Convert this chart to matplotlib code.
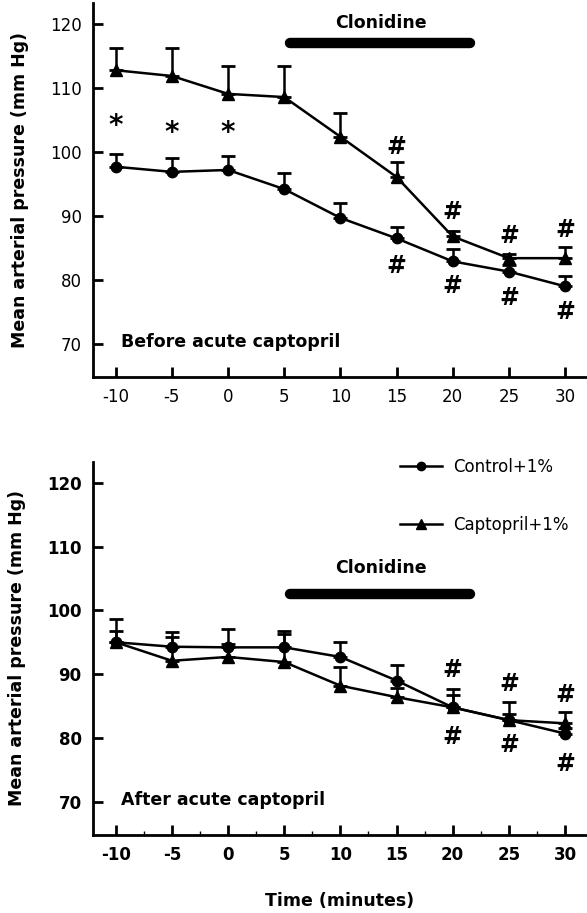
import matplotlib
matplotlib.use("Agg")
import matplotlib.pyplot as plt
from matplotlib.lines import Line2D

plt.rcParams['font.family'] = ['DejaVu Sans']

minutes = [-10, -5, 0, 5, 10, 15, 20, 25, 30]
xticks = [-10, -5, 0, 5, 10, 15, 20, 25, 30]
yticks = [70, 80, 90, 100, 110, 120]

# before acute captopril
ctrl_before = [97.7, 96.9, 97.2, 94.2, 89.7, 86.5, 82.9, 81.3, 79.0]
ctrl_before_sem = [2.0, 2.1, 2.2, 2.5, 2.4, 1.8, 1.9, 1.0, 1.6]
capt_before = [112.8, 111.9, 109.1, 108.6, 102.4, 96.1, 86.8, 83.4, 83.4]
capt_before_sem = [3.4, 4.3, 4.3, 4.8, 3.7, 2.3, 0.8, 0.6, 1.8]

# after acute captopril
ctrl_after = [95.0, 94.3, 94.2, 94.2, 92.7, 89.0, 84.8, 82.8, 80.7]
ctrl_after_sem = [3.7, 2.3, 2.9, 2.6, 2.3, 2.4, 1.9, 1.0, 0.8]
capt_after = [95.0, 92.1, 92.7, 91.9, 88.2, 86.4, 84.8, 82.8, 82.3]
capt_after_sem = [1.8, 3.7, 2.0, 4.4, 2.9, 1.5, 2.9, 2.8, 1.8]

# significance symbols (x, y)
stars_before = [(-10, 104.0), (-5, 103.0), (0, 103.0)]
hash_before = [(15, 100.8), (20, 90.7), (25, 86.8), (30, 87.8),
               (15, 82.1), (20, 79.0), (25, 77.2), (30, 75.0)]
hash_after = [(20, 90.6), (25, 88.5), (30, 86.7),
              (20, 80.2), (25, 78.9), (30, 76.0)]

clonidine_start, clonidine_end = 5.5, 21.5


def draw_panel(ax, ctrl, ctrl_sem, capt, capt_sem, bar_y, text_y, label,
               bold_ticks):
    kw = dict(color='black', lw=1.8, capsize=5, capthick=2, elinewidth=1.8)
    ax.errorbar(minutes, capt, yerr=[[0] * len(capt), capt_sem],
                marker='^', ms=8.5, **kw)
    ax.errorbar(minutes, ctrl, yerr=[[0] * len(ctrl), ctrl_sem],
                marker='o', ms=7.5, **kw)

    ax.plot([clonidine_start, clonidine_end], [bar_y, bar_y], color='black',
            lw=7.5, solid_capstyle='round')
    ax.text(13.6, text_y, 'Clonidine', ha='center', va='center',
            fontsize=12.5, fontweight='bold')
    ax.text(-9.5, 70.3, label, ha='left', va='center', fontsize=12.5,
            fontweight='bold')

    ax.set_xlim(-12.05, 31.96)
    ax.set_ylim(64.8, 123.3)
    ax.set_xticks(xticks)
    ax.set_xticklabels([str(t) for t in xticks])
    ax.set_yticks(yticks)
    ax.set_yticklabels([str(t) for t in yticks])
    ax.tick_params(direction='in', length=7, width=2, labelsize=12, pad=8)
    if bold_ticks:
        for t in ax.get_xticklabels() + ax.get_yticklabels():
            t.set_fontweight('bold')
    for side in ('top', 'right'):
        ax.spines[side].set_visible(False)
    for side in ('left', 'bottom'):
        ax.spines[side].set_linewidth(2)
    ax.set_ylabel('Mean arterial pressure (mm Hg)', fontsize=12.5,
                  fontweight='bold', labelpad=15)


fig = plt.figure(figsize=(5.87, 9.13), dpi=100)
ax1 = fig.add_axes([0.158, 0.587, 0.842, 0.4096])
ax2 = fig.add_axes([0.158, 0.0854, 0.842, 0.409])

draw_panel(ax1, ctrl_before, ctrl_before_sem, capt_before, capt_before_sem,
           117.1, 120.2, 'Before acute captopril', False)
draw_panel(ax2, ctrl_after, ctrl_after_sem, capt_after, capt_after_sem,
           102.6, 106.7, 'After acute captopril', True)

for x, y in stars_before:
    ax1.text(x, y, '*', ha='center', va='center', fontsize=20,
             fontweight='bold')
for x, y in hash_before:
    ax1.text(x, y, '#', ha='center', va='center', fontsize=17,
             fontweight='bold')
for x, y in hash_after:
    ax2.text(x, y, '#', ha='center', va='center', fontsize=17,
             fontweight='bold')

ax2.set_xticks([-7.5, -2.5, 2.5, 7.5, 12.5, 17.5, 22.5, 27.5], minor=True)
ax2.tick_params(which='minor', direction='in', length=3, width=1)
ax2.set_xlabel('Time (minutes)', fontsize=12.5, fontweight='bold', labelpad=20)

handles = [Line2D([], [], color='black', lw=1.8, marker='o', ms=6),
           Line2D([], [], color='black', lw=1.8, marker='^', ms=7)]
fig.legend(handles, ['Control+1%', 'Captopril+1%'], loc='upper left',
           bbox_to_anchor=(400 / 587, 1 - 458 / 913), frameon=False,
           fontsize=12, handlelength=2.5, handletextpad=0.7, labelspacing=2.4,
           borderpad=0, borderaxespad=0)

fig.savefig('out.png', dpi=100)
